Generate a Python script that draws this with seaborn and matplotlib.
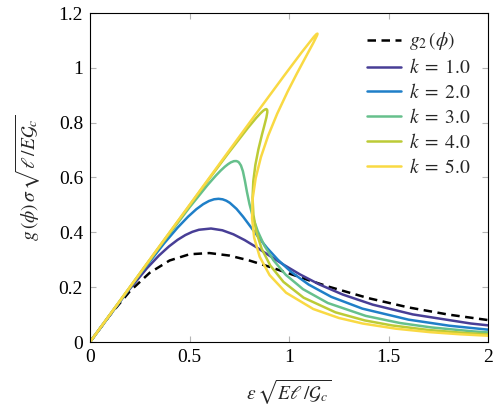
import numpy as np
import pandas as pd
import matplotlib
matplotlib.use("Agg")
import matplotlib.pyplot as plt
import seaborn as sns

### Curves (normalised strain, normalised stress)
G2_EPS = [0, 0.1, 0.2, 0.3, 0.4, 0.5, 0.6, 0.7, 0.8, 0.9, 1.0, 1.1, 1.2, 1.4, 1.6, 1.8, 2.0]
G2_SIG = [0, 0.098, 0.1849, 0.2525, 0.2973, 0.32, 0.3244, 0.3153, 0.2974, 0.2747, 0.25,
          0.2252, 0.2016, 0.1598, 0.1262, 0.1001, 0.08]

K1_EPS = [0, 0.1836, 0.2864, 0.3473, 0.3973, 0.4407, 0.4793, 0.5146, 0.5475, 0.6081, 0.665,
          0.7206, 0.7772, 0.8366, 0.9009, 0.9726, 1.0548, 1.1519, 1.2704, 1.4208, 1.6223,
          1.9141, 2.0742]
K1_SIG = [0, 0.1793, 0.2693, 0.3159, 0.3489, 0.3729, 0.3901, 0.4019, 0.4094, 0.4139, 0.4075,
          0.3928, 0.3717, 0.3455, 0.3153, 0.2821, 0.2467, 0.2101, 0.173, 0.1362, 0.1006,
          0.0674, 0.055]

K2_EPS = [0, 0.2454, 0.372, 0.4405, 0.4927, 0.5344, 0.5689, 0.5981, 0.6235, 0.646, 0.6663,
          0.685, 0.7026, 0.7362, 0.7695, 0.8048, 0.8443, 0.8901, 0.945, 1.0128, 1.099, 1.2123,
          1.3687, 1.6008, 1.8064, 1.9924, 2.1078]
K2_SIG = [0, 0.2422, 0.3594, 0.4174, 0.457, 0.4844, 0.5028, 0.5144, 0.5206, 0.5223, 0.5204,
          0.5153, 0.5076, 0.4857, 0.4568, 0.4225, 0.3842, 0.3428, 0.2993, 0.2545, 0.2094,
          0.1647, 0.1217, 0.0815, 0.0593, 0.0456, 0.0392]

K3_EPS = [0, 0.3396, 0.4999, 0.5908, 0.6323, 0.6568, 0.6771, 0.6939, 0.7078, 0.723, 0.7349,
          0.7423, 0.7486, 0.7585, 0.7684, 0.7783, 0.7885, 0.8014, 0.8189, 0.843, 0.8763,
          0.9217, 0.9839, 1.0706, 1.1952, 1.3857, 1.5573, 1.7139, 1.9269, 2.0665]
K3_SIG = [0, 0.3374, 0.491, 0.5726, 0.6068, 0.6253, 0.639, 0.6487, 0.6552, 0.6596, 0.66,
          0.6582, 0.6548, 0.6438, 0.6227, 0.5885, 0.548, 0.5031, 0.4547, 0.4039, 0.3515,
          0.2983, 0.245, 0.1926, 0.1422, 0.0952, 0.0693, 0.0533, 0.0386, 0.0317]

K4_EPS = [0, 0.3535, 0.572, 0.691, 0.7939, 0.8345, 0.8553, 0.8702, 0.8803, 0.8867, 0.8907,
          0.8909, 0.8863, 0.8746, 0.8641, 0.8463, 0.831, 0.8206, 0.8168, 0.8212, 0.8356,
          0.8625, 0.906, 0.9723, 1.0733, 1.2336, 1.3808, 1.5162, 1.7016, 1.8949, 2.0659]
K4_SIG = [0, 0.3529, 0.5691, 0.6849, 0.7813, 0.8168, 0.8333, 0.8435, 0.8485, 0.8495, 0.8457,
          0.8374, 0.8186, 0.7852, 0.7563, 0.703, 0.6459, 0.5866, 0.5259, 0.4644, 0.4023,
          0.3404, 0.279, 0.2191, 0.1617, 0.1082, 0.0787, 0.0606, 0.0438, 0.0323, 0.0253]

K5_EPS = [0, 0.3754, 0.5192, 0.7025, 0.8237, 0.9763, 1.0627, 1.1256, 1.1384, 1.1431, 1.1426,
          1.1397, 1.1215, 1.0834, 1.0387, 0.9933, 0.9405, 0.8951, 0.8588, 0.8327, 0.8175,
          0.8144, 0.825, 0.8526, 0.9025, 0.9852, 1.1224, 1.2512, 1.371, 1.5358, 1.7084,
          1.8615, 1.9964, 2.0637]
K5_SIG = [0, 0.3753, 0.5188, 0.7015, 0.8218, 0.9721, 1.0557, 1.1135, 1.1233, 1.1247, 1.1218,
          1.1165, 1.09, 1.0387, 0.978, 0.9137, 0.8324, 0.7522, 0.6741, 0.5982, 0.524, 0.4515,
          0.3804, 0.3111, 0.2439, 0.1798, 0.1202, 0.0875, 0.0673, 0.0487, 0.0359, 0.0281,
          0.023, 0.0209]

K_LABELS = ["$k\\;=\\;1.0$", "$k\\;=\\;2.0$", "$k\\;=\\;3.0$", "$k\\;=\\;4.0$", "$k\\;=\\;5.0$"]
K_COLORS = ["#483e96", "#1f7fc8", "#66c08c", "#bccb36", "#f9d943"]

X_TICKS = [0, 0.5, 1, 1.5, 2]
X_TICKLABELS = ["0", "0.5", "1", "1.5", "2"]
Y_TICKS = [0, 0.2, 0.4, 0.6, 0.8, 1.0, 1.2]
Y_TICKLABELS = ["0", "0.2", "0.4", "0.6", "0.8", "1", "1.2"]


def main():
    sns.set_theme(style="ticks")
    plt.rcParams["font.family"] = ["Liberation Serif", "DejaVu Serif"]
    plt.rcParams["mathtext.fontset"] = "stix"

    fig = plt.figure(figsize=(4.99, 4.11), dpi=100)
    ax = fig.add_axes([90 / 499, 69 / 411, 398 / 499, 329 / 411])

    ## dashed reference curve
    sns.lineplot(x=G2_EPS, y=G2_SIG, ax=ax, color="black", linewidth=1.8,
                 linestyle=(0, (3.4, 2.2)), sort=False, estimator=None,
                 label="$g_2\\,(\\phi)$")

    curves = [(K1_EPS, K1_SIG), (K2_EPS, K2_SIG), (K3_EPS, K3_SIG),
              (K4_EPS, K4_SIG), (K5_EPS, K5_SIG)]
    for (eps, sig), lab, col in zip(curves, K_LABELS, K_COLORS):
        sns.lineplot(x=eps, y=sig, ax=ax, color=col, linewidth=1.8,
                     sort=False, estimator=None, label=lab)

    ax.set_xlim(0, 2)
    ax.set_ylim(0, 1.2)
    ax.set_xticks(X_TICKS)
    ax.set_xticklabels(X_TICKLABELS)
    ax.set_yticks(Y_TICKS)
    ax.set_yticklabels(Y_TICKLABELS)
    ax.tick_params(direction="in", length=4, width=0.8, color="#b4b4b4",
                   top=True, right=True, labelsize=14, pad=5, labelcolor="black")
    for sp in ax.spines.values():
        sp.set_color("black")
        sp.set_linewidth(0.8)
        sp.set_visible(True)

    ax.set_xlabel("$\\varepsilon\\,\\sqrt{E\\ell\\,/\\mathcal{G}_c}$", fontsize=14, labelpad=9)
    ax.set_ylabel("$g\\,(\\phi)\\,\\sigma\\,\\sqrt{\\ell\\,/E\\mathcal{G}_c}$", fontsize=14, labelpad=11)

    ax.legend(loc="upper right", frameon=False, fontsize=14, handlelength=1.75,
              handletextpad=0.4, labelspacing=0.3, borderaxespad=0.5)

    fig.savefig("out.png", dpi=100)


if __name__ == "__main__":
    main()
